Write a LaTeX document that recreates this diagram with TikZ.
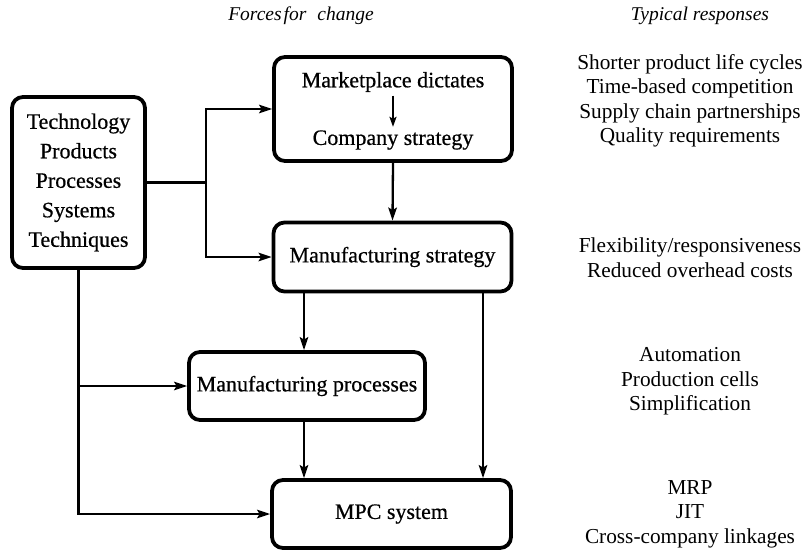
\documentclass[tikz,border=0pt]{standalone}
\usepackage{fontspec}
\setmainfont{Liberation Serif}
\newfontfamily\boxfont{Liberation Serif}[FakeBold=0.6]
\usetikzlibrary{arrows.meta}
\begin{document}
\begin{tikzpicture}[x=1pt,y=1pt,
  box/.style={draw, line width=3.8pt, rounded corners=11pt, inner sep=0pt,
    font=\boxfont\fontsize{22}{29.5}\selectfont, align=center},
  boxtext/.style={font=\boxfont\fontsize{22}{24}\selectfont},
  conn/.style={line width=2.3pt},
  arr/.style={line width=2.3pt, -{Stealth[length=13pt,width=8.5pt,inset=2.5pt]}},
  small arr/.style={line width=2pt, -{Stealth[length=10pt,width=7pt,inset=2pt]}},
  resp/.style={font=\fontsize{21.3}{24.5}\selectfont, align=center},
  head/.style={font=\fontsize{19.5}{24}\selectfont\itshape}]
\useasboundingbox (0,0) rectangle (805,-559);

% column headings
\node[head] (hforces) at (301,-16) {Forces\hspace{2pt}for\hspace{11pt}change};
\node[head] (hresp) at (700,-16) {Typical responses};

% boxes
\node[box, minimum width=133pt, minimum height=171pt] (tech) at (78.5,-182.5)
  {Technology\\Products\\Processes\\Systems\\Techniques};
\node[box, minimum width=238pt, minimum height=104pt] (market) at (393,-109) {};
\node[boxtext] (mkt) at (393,-82) {Marketplace dictates};
\node[boxtext] (cst) at (393,-140) {Company strategy};
\node[box, minimum width=238pt, minimum height=69pt] (mstrat) at (392.5,-257)
  {Manufacturing strategy};
\node[box, minimum width=236pt, minimum height=68pt] (mproc) at (307,-386)
  {Manufacturing processes};
\node[box, minimum width=239pt, minimum height=68pt] (mpc) at (391.5,-514)
  {MPC system};

% responses
\node[resp] (r1) at (690,-101) {Shorter product life cycles\\Time-based competition\\Supply chain partnerships\\Quality requirements};
\node[resp] (r2) at (690,-257.5) {Flexibility/responsiveness\\Reduced overhead costs};
\node[resp] (r3) at (690,-381.5) {Automation\\Production cells\\Simplification};
\node[resp] (r4) at (690,-514) {MRP\\JIT\\Cross-company linkages};

% connectors
\coordinate (jn) at (206,-182.5);
\draw[small arr] (mkt.south) -- (cst.north);
\draw[conn] (tech.east) -- (jn);
\draw[arr] (jn) |- (market.west);
\draw[arr] (jn) |- (mstrat.west);
\draw[arr] (market.south) -- (mstrat.north);
\draw[arr] (mstrat.south -| 304,0) -- (mproc.north -| 304,0);
\draw[arr] (mstrat.south -| 483,0) -- (mpc.north -| 483,0);
\draw[arr] (mproc.south -| 304,0) -- (mpc.north -| 304,0);
\draw[arr] (tech.south) |- (mpc.west);
\draw[arr] (tech.south |- mproc.west) -- (mproc.west);
\end{tikzpicture}
\end{document}
